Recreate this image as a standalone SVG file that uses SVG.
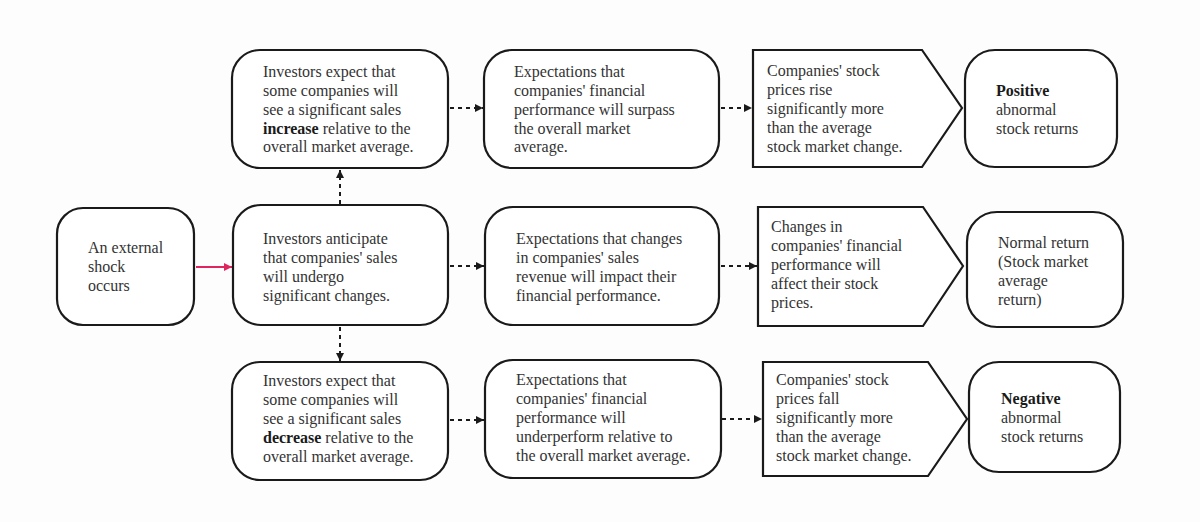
<svg xmlns="http://www.w3.org/2000/svg" width="1200" height="522" viewBox="0 0 1200 522">
<defs>
<style>
.box{fill:#ffffff;stroke:#1a1a1a;stroke-width:2.2}
.t{font-family:"Liberation Serif","Times New Roman",serif;font-size:16px;fill:#333333}
.b{font-weight:bold;fill:#1a1a1a}
.dash{stroke:#1a1a1a;stroke-width:2;stroke-dasharray:4 4;fill:none}
.red{stroke:#e0245e;stroke-width:2;fill:none}
</style>
<marker id="ah" markerWidth="8" markerHeight="8" refX="8" refY="4" orient="auto" markerUnits="userSpaceOnUse">
<path d="M0,0 L8,4 L0,8 z" fill="#1a1a1a"/>
</marker>
<marker id="ahr" markerWidth="8" markerHeight="8" refX="8" refY="4" orient="auto" markerUnits="userSpaceOnUse">
<path d="M0,0 L8,4 L0,8 z" fill="#e0245e"/>
</marker>
</defs>
<rect width="1200" height="522" fill="#fdfdfd"/>

<g id="connectors">
<line class="red" x1="196" y1="267" x2="232" y2="267" marker-end="url(#ahr)"/>
<line class="dash" x1="450" y1="266" x2="484" y2="266" marker-end="url(#ah)"/>
<line class="dash" x1="721" y1="266" x2="757" y2="266" marker-end="url(#ah)"/>
<line class="dash" x1="450" y1="108" x2="483" y2="108" marker-end="url(#ah)"/>
<line class="dash" x1="721" y1="108" x2="752" y2="108" marker-end="url(#ah)"/>
<line class="dash" x1="450" y1="420" x2="484" y2="420" marker-end="url(#ah)"/>
<line class="dash" x1="722" y1="419" x2="762" y2="419" marker-end="url(#ah)"/>
<line class="dash" x1="340" y1="204" x2="340" y2="170" marker-end="url(#ah)"/>
<line class="dash" x1="340" y1="327" x2="340" y2="361" marker-end="url(#ah)"/>
</g>

<g id="shock">
<rect class="box" x="57" y="208" width="137" height="117" rx="26"/>
<text class="t" x="88" y="253">An external</text>
<text class="t" x="88" y="272">shock</text>
<text class="t" x="88" y="291">occurs</text>
</g>

<g id="anticipate">
<rect class="box" x="233" y="205" width="215" height="120" rx="28"/>
<text class="t" x="263" y="244">Investors anticipate</text>
<text class="t" x="263" y="263">that companies' sales</text>
<text class="t" x="263" y="282">will undergo</text>
<text class="t" x="263" y="301">significant changes.</text>
</g>

<g id="increase">
<rect class="box" x="232" y="50" width="216" height="118" rx="28"/>
<text class="t" x="263" y="77">Investors expect that</text>
<text class="t" x="263" y="96">some companies will</text>
<text class="t" x="263" y="114.5">see a significant sales</text>
<text class="t" x="263" y="133.5"><tspan class="b">increase</tspan> relative to the</text>
<text class="t" x="263" y="152">overall market average.</text>
</g>

<g id="surpass">
<rect class="box" x="484" y="50" width="235" height="118" rx="28"/>
<text class="t" x="514" y="77">Expectations that</text>
<text class="t" x="514" y="96">companies' financial</text>
<text class="t" x="514" y="114.5">performance will surpass</text>
<text class="t" x="514" y="133.5">the overall market</text>
<text class="t" x="514" y="152">average.</text>
</g>

<g id="rise">
<polygon class="box" points="753,50 922,50 962,108 922,167 753,167"/>
<text class="t" x="767" y="76">Companies' stock</text>
<text class="t" x="767" y="95">prices rise</text>
<text class="t" x="767" y="114">significantly more</text>
<text class="t" x="767" y="133">than the average</text>
<text class="t" x="767" y="152">stock market change.</text>
</g>

<g id="positive">
<rect class="box" x="965" y="50" width="152" height="117" rx="30"/>
<text class="t b" x="996" y="96">Positive</text>
<text class="t" x="996" y="115">abnormal</text>
<text class="t" x="996" y="134">stock returns</text>
</g>

<g id="impact">
<rect class="box" x="485" y="207" width="234" height="118" rx="28"/>
<text class="t" x="516" y="244">Expectations that changes</text>
<text class="t" x="516" y="263">in companies' sales</text>
<text class="t" x="516" y="282">revenue will impact their</text>
<text class="t" x="516" y="300.5">financial performance.</text>
</g>

<g id="affect">
<polygon class="box" points="758,207 923,207 963,266 923,326 758,326"/>
<text class="t" x="771" y="232">Changes in</text>
<text class="t" x="771" y="251">companies' financial</text>
<text class="t" x="771" y="270">performance will</text>
<text class="t" x="771" y="289">affect their stock</text>
<text class="t" x="771" y="308">prices.</text>
</g>

<g id="normal">
<rect class="box" x="967" y="212" width="156" height="115" rx="30"/>
<text class="t" x="998" y="248">Normal return</text>
<text class="t" x="998" y="267">(Stock market</text>
<text class="t" x="998" y="286">average</text>
<text class="t" x="998" y="305">return)</text>
</g>

<g id="decrease">
<rect class="box" x="232" y="362" width="216" height="118" rx="28"/>
<text class="t" x="263" y="386">Investors expect that</text>
<text class="t" x="263" y="405">some companies will</text>
<text class="t" x="263" y="424">see a significant sales</text>
<text class="t" x="263" y="443"><tspan class="b">decrease</tspan> relative to the</text>
<text class="t" x="263" y="461.5">overall market average.</text>
</g>

<g id="underperform">
<rect class="box" x="485" y="360" width="236" height="118" rx="28"/>
<text class="t" x="516" y="385">Expectations that</text>
<text class="t" x="516" y="404">companies' financial</text>
<text class="t" x="516" y="423">performance will</text>
<text class="t" x="516" y="442">underperform relative to</text>
<text class="t" x="516" y="460.5">the overall market average.</text>
</g>

<g id="fall">
<polygon class="box" points="763,362 928,362 967,419 928,476 763,476"/>
<text class="t" x="776" y="385">Companies' stock</text>
<text class="t" x="776" y="404">prices fall</text>
<text class="t" x="776" y="423">significantly more</text>
<text class="t" x="776" y="442">than the average</text>
<text class="t" x="776" y="461">stock market change.</text>
</g>

<g id="negative">
<rect class="box" x="969" y="362" width="151" height="110" rx="30"/>
<text class="t b" x="1001" y="404">Negative</text>
<text class="t" x="1001" y="423">abnormal</text>
<text class="t" x="1001" y="442">stock returns</text>
</g>
</svg>
